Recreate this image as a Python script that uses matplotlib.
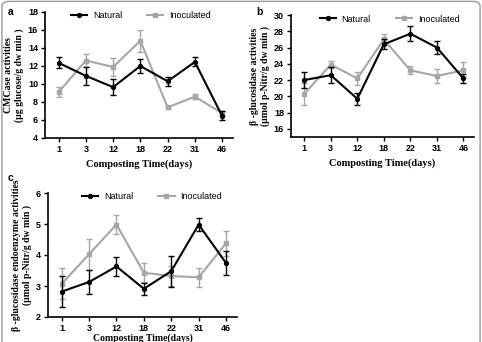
import matplotlib
matplotlib.use("Agg")
import matplotlib.pyplot as plt
from matplotlib.patches import FancyBboxPatch
from matplotlib.lines import Line2D
import numpy as np

days = ["1", "3", "12", "18", "22", "31", "46"]

a_nat = [12.35, 10.9, 9.65, 12.0, 10.3, 12.45, 6.45]
a_nat_err = [0.6, 1.0, 0.85, 0.8, 0.5, 0.5, 0.5]
a_ino = [9.1, 12.6, 11.9, 14.8, 7.4, 8.6, 6.75]
a_ino_err = [0.55, 0.7, 1.0, 1.2, 0.2, 0.3, 0.2]

b_nat = [22.0, 22.6, 19.7, 26.4, 27.7, 26.0, 22.2]
b_nat_err = [1.0, 1.0, 0.75, 0.6, 0.9, 0.8, 0.6]
b_ino = [20.3, 23.9, 22.2, 27.0, 23.2, 22.5, 23.2]
b_ino_err = [1.4, 0.4, 0.8, 0.7, 0.5, 0.8, 1.0]

c_nat = [2.82, 3.13, 3.63, 2.91, 3.48, 4.98, 3.74]
c_nat_err = [0.5, 0.4, 0.3, 0.2, 0.5, 0.2, 0.4]
c_ino = [3.07, 4.03, 4.98, 3.43, 3.32, 3.28, 4.38]
c_ino_err = [0.5, 0.5, 0.3, 0.3, 0.33, 0.3, 0.4]

GRAY = "#a6a6a6"
sans = ["Liberation Sans", "DejaVu Sans"]
serif = ["Liberation Serif", "DejaVu Serif"]

fig = plt.figure(figsize=(4.82, 3.42), dpi=100)

def panel(rect, nat, nate, ino, inoe, ylim, yticks, ylabel, letter, letterpos, legx,
          xlabelpad=4, xlabelsize=7.5):
    ax = fig.add_axes(rect)
    x = np.arange(len(days))
    ax.errorbar(x, ino, yerr=inoe, color=GRAY, marker="s", markersize=3.5,
                lw=1.5, elinewidth=1.0, capsize=2, capthick=1.0, zorder=2)
    ax.errorbar(x, nat, yerr=nate, color="black", marker="o", markersize=2.8,
                lw=1.5, elinewidth=1.0, capsize=2, capthick=1.0, zorder=3)
    ax.set_xlim(-0.5, 6.4)
    ax.set_ylim(*ylim)
    ax.set_yticks(yticks)
    ax.set_xticks(x)
    ax.set_xticklabels(days)
    for s in ["top", "right"]:
        ax.spines[s].set_visible(False)
    for s in ["left", "bottom"]:
        ax.spines[s].set_linewidth(1.2)
    ax.tick_params(direction="out", length=3, width=1.0, labelsize=6.5, pad=2)
    for lab in ax.get_xticklabels() + ax.get_yticklabels():
        lab.set_family(sans)
        lab.set_fontweight("bold")
    ax.set_xlabel("Composting Time(days)", family=serif, fontweight="bold", fontsize=xlabelsize,
                  labelpad=xlabelpad)
    ax.set_ylabel(ylabel, family=serif, fontweight="bold", fontsize=7.0, labelpad=3, linespacing=1.1)
    handles = [Line2D([], [], color="black", marker="o", markersize=2.8, lw=1.5),
               Line2D([], [], color=GRAY, marker="s", markersize=3.5, lw=1.5)]
    ax.legend(handles, ["Natural", "Inoculated"], loc="upper center", bbox_to_anchor=(legx, 1.07), ncol=2,
              frameon=False, prop={"family": sans, "size": 6.5}, handlelength=1.8,
              columnspacing=2.8, handletextpad=0.6)
    fig.text(letterpos[0] / 482, 1 - letterpos[1] / 342, letter, family=sans, fontweight="bold",
             fontsize=7.5, ha="left", va="center")
    return ax

panel([45 / 482, 1 - 138 / 342, 188 / 482, 126 / 342], a_nat, a_nat_err, a_ino, a_ino_err,
      (4, 18), [4, 6, 8, 10, 12, 14, 16, 18],
      "CMCase activities\n(μg glucose/g dw min )", "a", (8, 12), 0.51)
panel([291 / 482, 1 - 137 / 342, 183 / 482, 122 / 342], b_nat, b_nat_err, b_ino, b_ino_err,
      (15, 30), [16, 18, 20, 22, 24, 26, 28, 30],
      "β -glucosidase activities\n(μmol p-Nitr/g dw min )", "b", (256, 12), 0.54)
panel([48 / 482, 1 - 317 / 342, 189 / 482, 124 / 342], c_nat, c_nat_err, c_ino, c_ino_err,
      (2, 6), [2, 3, 4, 5, 6],
      "β -glucosidase endoenzyme activities\n(μmol p-Nitr/g dw min )", "c", (8, 178), 0.55,
      xlabelpad=0, xlabelsize=7.0)

border = FancyBboxPatch((0.004, -0.05), 0.992, 1.046, boxstyle="round,pad=0,rounding_size=0.015",
                        transform=fig.transFigure, fill=False, edgecolor="#9a9a9a", lw=1.0)
fig.patches.append(border)

fig.savefig("out.png", dpi=100)
